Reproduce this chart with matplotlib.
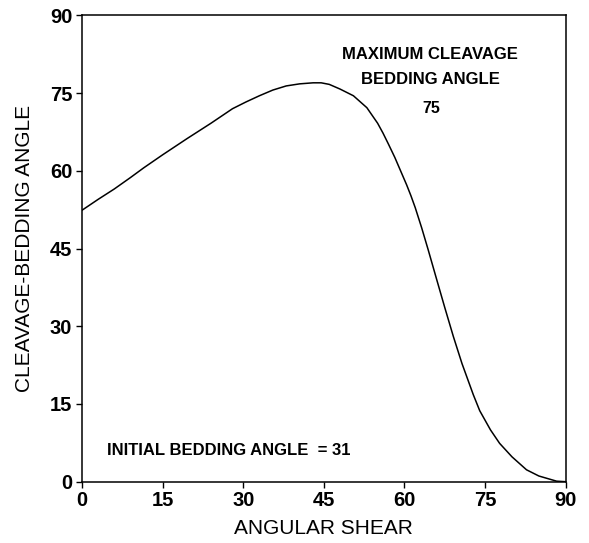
import numpy as np
import matplotlib.pyplot as plt

# --- data ---
angular_shear = [0, 3, 6, 9, 11.5, 15, 19.5, 24, 28, 30.5, 33, 35.5, 38, 40.5, 43,
                 44.5, 46, 48, 50.5, 53, 55, 56, 57, 58.2, 60.4, 61.2, 62, 63.2,
                 64.4, 66, 67.5, 69.1, 70.7, 72.8, 74, 76, 77.7, 80, 82.7, 85,
                 88.3, 90]
cleavage_angle = [52.4, 54.5, 56.5, 58.7, 60.6, 63.1, 66.2, 69.2, 72.0, 73.3, 74.5,
                  75.6, 76.4, 76.8, 77.0, 77.0, 76.7, 75.8, 74.5, 72.2, 69.2, 67.3,
                  65.2, 62.6, 57.3, 55.2, 52.9, 49.0, 44.8, 39.0, 33.6, 28.0, 22.8,
                  16.8, 13.7, 10.0, 7.4, 4.8, 2.3, 1.1, 0.1, 0]
ticks = [0, 15, 30, 45, 60, 75, 90]

plt.rcParams['font.family'] = ['Liberation Sans', 'DejaVu Sans']

fig = plt.figure(figsize=(5.89, 5.43), dpi=100)
ax = fig.add_axes([0.1392, 0.1129, 0.8213, 0.8586])

ax.plot(angular_shear, cleavage_angle, color='black', linewidth=1.1,
        solid_joinstyle='round')

ax.set_xlim(0, 90)
ax.set_ylim(0, 90)
ax.set_xticks(ticks)
ax.set_yticks(ticks)
ax.tick_params(direction='out', length=4.5, width=1.0, pad=2.5,
               labelsize=14.5, top=False, right=False)
for lab in ax.get_xticklabels() + ax.get_yticklabels():
    lab.set_fontweight('bold')
for s in ax.spines.values():
    s.set_linewidth(1.1)

ax.set_xlabel('ANGULAR SHEAR', fontsize=15)
ax.set_ylabel('CLEAVAGE-BEDDING ANGLE', fontsize=15)
ax.xaxis.set_label_coords(0.5, -0.101)
ax.yaxis.set_label_coords(-0.118, 0.5)
ax.xaxis.label.set_va('center')
ax.yaxis.label.set_va('center')

# annotations
ax.text(64.8, 82.5, 'MAXIMUM CLEAVAGE', fontsize=12, fontweight='bold',
        ha='center', va='center')
ax.text(64.8, 77.7, 'BEDDING ANGLE', fontsize=12, fontweight='bold',
        ha='center', va='center')
ax.text(65.0, 72.1, '75', fontsize=11.5, fontweight='bold',
        ha='center', va='center')
ax.text(4.7, 6.1, 'INITIAL BEDDING ANGLE  = 31', fontsize=12, fontweight='bold',
        ha='left', va='center')

fig.savefig('out.png', dpi=100)
